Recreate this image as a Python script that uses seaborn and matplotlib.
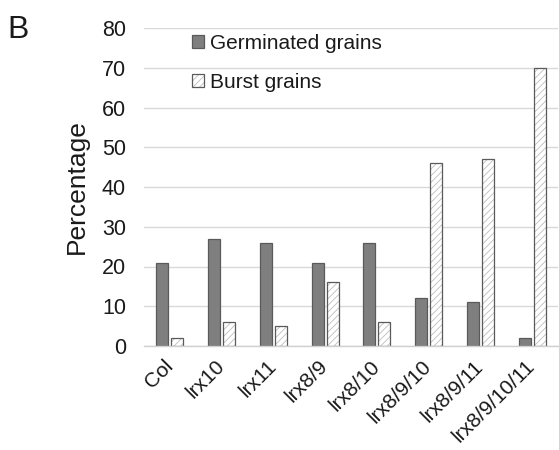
import numpy as np
import pandas as pd
import seaborn as sns
import matplotlib
matplotlib.use("Agg")
import matplotlib.pyplot as plt
from matplotlib.colors import to_rgba
from matplotlib.transforms import ScaledTranslation

categories = ["Col", "lrx10", "lrx11", "lrx8/9", "lrx8/10", "lrx8/9/10", "lrx8/9/11", "lrx8/9/10/11"]
germinated = [21, 27, 26, 21, 26, 12, 11, 2]
burst = [2, 6, 5, 16, 6, 46, 47, 70]
series_names = ["Germinated grains", "Burst grains"]
yticks = [0, 10, 20, 30, 40, 50, 60, 70, 80]

df = pd.DataFrame({
    "cat": categories * 2,
    "val": germinated + burst,
    "series": [series_names[0]] * len(categories) + [series_names[1]] * len(categories),
})

sns.set_theme(style="white")
plt.rcParams['font.family'] = ['Liberation Sans', 'DejaVu Sans']
plt.rcParams['hatch.linewidth'] = 0.6

fig = plt.figure(figsize=(5.59, 4.5), dpi=100)
ax = fig.add_axes([144/559, 1-346/450, 414/559, 318/450])

sns.barplot(data=df, x="cat", y="val", hue="series", order=categories,
            hue_order=series_names,
            palette={series_names[0]: "#7f7f7f", series_names[1]: "#ffffff"},
            width=0.58, gap=0.2, ax=ax, legend=False, errorbar=None,
            edgecolor="#5a5a5a", linewidth=0.9, saturation=1)

for p in ax.containers[1].patches:
    p.set_hatch("/////")
    p._hatch_color = to_rgba("#bdbdbd")

ax.set_ylim(0, 80)
ax.set_xlim(-0.5, 7.5)
ax.set_yticks(yticks)
ax.set_yticklabels([str(v) for v in yticks], fontsize=15.5, color="#1a1a1a")
ax.set_xticks(range(len(categories)))
ax.set_xticklabels(categories, rotation=45, ha="right", va="center", rotation_mode="anchor",
                   fontsize=15, color="#1a1a1a")
offset = ScaledTranslation(6/100, 0, fig.dpi_scale_trans)
for lbl in ax.get_xticklabels():
    lbl.set_transform(lbl.get_transform() + offset)
ax.tick_params(axis="y", length=0, pad=13)
ax.tick_params(axis="x", length=0, pad=12.5)
ax.grid(axis="y", color="#d9d9d9", linewidth=1.0)
ax.set_axisbelow(True)
for s in ["top", "right", "left"]:
    ax.spines[s].set_visible(False)
ax.spines["bottom"].set_color("#d0d0d0")
ax.spines["bottom"].set_linewidth(1.0)
ax.set_xlabel("")
ax.set_ylabel("Percentage", fontsize=19, color="#1a1a1a", labelpad=9)

handles = [ax.containers[0].patches[0], ax.containers[1].patches[0]]
leg = fig.legend(handles, series_names, loc="upper left",
                 bbox_to_anchor=(192/559, 1-34/450), frameon=False,
                 fontsize=15, handlelength=0.6, handleheight=0.6,
                 handletextpad=0.25, labelspacing=0.95, borderpad=0, borderaxespad=0)
for t in leg.get_texts():
    t.set_color("#1a1a1a")

fig.text(0.014, 0.915, "B", fontsize=23, color="#1a1a1a")

fig.savefig("out.png", dpi=100)
